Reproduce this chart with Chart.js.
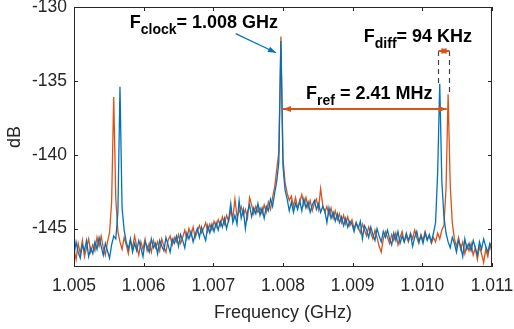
<!DOCTYPE html>
<html>
<head>
<meta charset="utf-8">
<script src="https://cdn.jsdelivr.net/npm/chart.js@4/dist/chart.umd.min.js"></script>
<style>
  html, body { margin: 0; padding: 0; background: #ffffff; }
  #wrap { width: 514px; height: 329px; }
</style>
</head>
<body>
<div id="wrap"><canvas id="spectrum" width="514" height="329"></canvas></div>
<script>
// Sweep grid (GHz): first point and spacing between points
const freqStart = 1.005;
const freqStep = 0.00003;

// Axis ticks
const xTicks = [1.005, 1.006, 1.007, 1.008, 1.009, 1.010, 1.011];
const yTicks = [-145, -140, -135, -130];

// Measured spectrum, blue trace (dB)
const blueDb = [
  -146.8, -145.9, -146.6, -147.0, -146.1, -146.5, -145.8, -146.9, -146.3, -146.7,
  -145.9, -146.4, -145.6, -146.2, -146.8, -146.0, -146.5, -147.0, -146.1, -145.5,
  -145.7, -143.9, -135.4, -143.6, -145.1, -145.9, -146.4, -145.7, -146.6, -146.0,
  -146.5, -145.8, -146.3, -146.9, -145.9, -146.2, -146.6, -145.7, -146.3, -146.0,
  -146.7, -145.8, -146.2, -146.5, -145.6, -146.1, -146.6, -145.7, -146.0, -145.5,
  -146.2, -145.4, -145.8, -146.3, -145.3, -145.7, -145.2, -145.9, -145.4, -145.0,
  -145.6, -144.9, -145.4, -145.8, -144.8, -145.3, -144.7, -145.2, -144.6, -145.1,
  -144.5, -144.9, -144.3, -145.0, -144.4, -143.3, -144.6, -144.1, -144.7, -143.1,
  -144.3, -143.7, -145.0, -143.9, -143.4, -144.2, -143.6, -144.0, -143.3, -144.1,
  -143.6, -144.3, -143.5, -143.8, -143.0, -143.5, -142.6, -141.8, -140.5, -132.3,
  -140.8, -142.4, -143.0, -143.8, -143.2, -143.9, -143.3, -143.7, -143.1, -143.8,
  -143.0, -143.6, -143.2, -143.9, -143.4, -143.1, -143.7, -143.3, -143.9, -143.5,
  -143.8, -144.6, -143.6, -144.3, -143.9, -144.5, -144.0, -144.6, -144.2, -144.8,
  -144.3, -144.9, -144.5, -144.7, -145.2, -144.6, -145.0, -144.5, -145.7, -144.8,
  -145.1, -145.6, -144.9, -145.4, -145.8, -145.0, -145.5, -145.9, -145.2, -145.6,
  -145.1, -145.7, -146.1, -145.3, -145.8, -145.2, -146.0, -145.5, -145.9, -145.3,
  -145.8, -145.4, -146.2, -145.6, -145.2, -145.9, -145.5, -146.0, -145.3, -145.8,
  -145.4, -145.9, -145.3, -144.6, -141.2, -135.2, -141.8, -144.2, -145.3, -145.9,
  -146.3, -145.6, -146.0, -146.6, -145.8, -146.2, -146.9, -145.7, -146.4, -146.0,
  -146.5, -145.8, -146.3, -146.8, -145.9, -146.4, -145.7, -146.2, -146.6, -146.0,
  -146.3
];

// Measured spectrum, orange trace (dB)
const orangeDb = [
  -146.4, -147.1, -146.0, -146.7, -145.8, -146.9, -146.3, -145.7, -146.6, -146.1,
  -146.5, -145.6, -146.2, -145.5, -146.3, -146.8, -145.9, -145.3, -143.2, -136.1,
  -143.0, -145.2, -145.9, -146.4, -145.6, -146.1, -146.7, -145.8, -146.3, -145.5,
  -146.2, -146.8, -145.9, -146.4, -145.7, -146.5, -146.0, -146.6, -145.8, -146.3,
  -145.9, -146.5, -145.7, -146.2, -146.6, -145.8, -145.5, -146.1, -145.6, -145.9,
  -145.4, -146.0, -145.6, -145.1, -145.7, -145.0, -145.5, -144.9, -145.6, -145.2,
  -144.8, -145.3, -145.0, -144.6, -145.2, -144.7, -145.1, -144.5, -144.9, -144.4,
  -144.8, -144.2, -144.7, -144.1, -144.5, -143.8, -144.3, -143.0, -144.2, -143.9,
  -143.5, -144.1, -143.7, -144.3, -142.9, -143.4, -144.0, -143.5, -143.9, -143.6,
  -144.0, -143.4, -143.9, -143.2, -143.7, -142.9, -142.2, -141.0, -139.8, -132.0,
  -140.3, -141.9, -142.6, -143.1, -142.8, -143.5, -142.9, -143.6, -143.2, -142.7,
  -143.4, -142.9, -143.6, -143.1, -143.8, -143.3, -143.0, -143.7, -142.3, -143.4,
  -143.9, -143.5, -144.1, -143.6, -144.3, -143.8, -144.4, -144.0, -144.6, -144.1,
  -144.7, -144.2, -144.8, -144.4, -145.0, -144.6, -144.9, -145.3, -144.7, -145.1,
  -145.5, -144.9, -145.3, -145.7, -145.1, -145.6, -146.2, -146.6, -145.7, -145.2,
  -145.6, -146.0, -145.4, -145.8, -145.3, -146.1, -145.6, -145.2, -145.9, -145.5,
  -145.9, -145.3, -145.7, -145.1, -145.6, -146.0, -145.4, -145.8, -145.2, -145.7,
  -145.5, -146.0, -145.6, -145.9, -145.3, -145.7, -145.1, -144.8, -142.3, -135.9,
  -142.0, -144.6, -145.7, -146.2, -145.6, -146.4, -145.9, -146.7, -146.1, -146.5,
  -146.0, -146.8, -146.3, -147.1, -146.2, -146.7, -147.3, -146.4, -146.9, -146.1,
  -146.6
];

// Annotation anchors (GHz, dB)
const clockText = [1.0058, -131.45];
const clockArrow = [1.00732, -131.8, 1.0079, -133.1];
const refText = [1.00833, -136.25];
const refArrow = [1.008, 1.01035, -136.9];
const diffText = [1.00916, -132.4];
const diffArrow = [1.01022, 1.01038, -132.95];
const diffBlueTop = -135.2;
const diffOrangeTop = -135.8;

const BLUE = '#0072BD';
const ORANGE = '#D95319';
const AXIS = '#262626';
const FONT = "'Liberation Sans', Arial, Helvetica, sans-serif";

function toPoints(values) {
  return values.map((v, i) => ({ x: freqStart + i * freqStep, y: v }));
}

function arrowHead(ctx, x0, y0, x1, y1, color) {
  const ang = Math.atan2(y1 - y0, x1 - x0);
  const len = 8, half = 3;
  ctx.fillStyle = color;
  ctx.beginPath();
  ctx.moveTo(x1, y1);
  ctx.lineTo(x1 - len * Math.cos(ang) + half * Math.sin(ang), y1 - len * Math.sin(ang) - half * Math.cos(ang));
  ctx.lineTo(x1 - len * Math.cos(ang) - half * Math.sin(ang), y1 - len * Math.sin(ang) + half * Math.cos(ang));
  ctx.closePath();
  ctx.fill();
}

function line(ctx, x0, y0, x1, y1, color) {
  ctx.strokeStyle = color;
  ctx.beginPath();
  ctx.moveTo(x0, y0);
  ctx.lineTo(x1, y1);
  ctx.stroke();
}

// "F" with a subscript then the rest of the label
function subLabel(ctx, x, y, sub, rest) {
  ctx.fillStyle = '#000';
  ctx.textBaseline = 'alphabetic';
  ctx.textAlign = 'left';
  ctx.font = 'bold 18px ' + FONT;
  ctx.fillText('F', x, y);
  x += ctx.measureText('F').width;
  ctx.font = 'bold 14px ' + FONT;
  ctx.fillText(sub, x, y + 6);
  x += ctx.measureText(sub).width;
  ctx.font = 'bold 18px ' + FONT;
  ctx.fillText(rest, x, y);
}

const axesBox = {
  id: 'axesBox',
  afterDatasetsDraw(chart) {
    const { ctx, chartArea: a, scales: { x, y } } = chart;
    ctx.save();
    ctx.lineWidth = 1;
    ctx.strokeStyle = AXIS;
    ctx.strokeRect(a.left + 0.5, a.top + 0.5, a.right - a.left - 1, a.bottom - a.top - 1);
    // inward ticks on all four sides
    ctx.beginPath();
    xTicks.forEach(t => {
      const px = Math.round(x.getPixelForValue(t)) + 0.5;
      ctx.moveTo(px, a.bottom); ctx.lineTo(px, a.bottom - 4);
      ctx.moveTo(px, a.top); ctx.lineTo(px, a.top + 4);
    });
    yTicks.forEach(t => {
      const py = Math.round(y.getPixelForValue(t)) + 0.5;
      ctx.moveTo(a.left, py); ctx.lineTo(a.left + 4, py);
      ctx.moveTo(a.right, py); ctx.lineTo(a.right - 4, py);
    });
    ctx.stroke();

    ctx.lineWidth = 1.6;

    // F_clock label with blue arrow
    subLabel(ctx, x.getPixelForValue(clockText[0]), y.getPixelForValue(clockText[1]), 'clock', '= 1.008 GHz');
    const cx0 = x.getPixelForValue(clockArrow[0]), cy0 = y.getPixelForValue(clockArrow[1]);
    const cx1 = x.getPixelForValue(clockArrow[2]), cy1 = y.getPixelForValue(clockArrow[3]);
    ctx.lineWidth = 1.2;
    line(ctx, cx0, cy0, cx1, cy1, BLUE);
    arrowHead(ctx, cx0, cy0, cx1, cy1, BLUE);

    // F_ref label with double arrow between the peaks
    subLabel(ctx, x.getPixelForValue(refText[0]), y.getPixelForValue(refText[1]), 'ref', ' = 2.41 MHz');
    const rx0 = x.getPixelForValue(refArrow[0]), rx1 = x.getPixelForValue(refArrow[1]);
    const ry = Math.round(y.getPixelForValue(refArrow[2]));
    ctx.lineWidth = 1.8;
    line(ctx, rx0, ry, rx1, ry, ORANGE);
    arrowHead(ctx, rx1, ry, rx0, ry, ORANGE);
    arrowHead(ctx, rx0, ry, rx1, ry, ORANGE);

    // F_diff label, dashed guides and small double arrow
    subLabel(ctx, x.getPixelForValue(diffText[0]), y.getPixelForValue(diffText[1]), 'diff', '= 94 KHz');
    const dx0 = Math.round(x.getPixelForValue(diffArrow[0])) + 0.5;
    const dx1 = Math.round(x.getPixelForValue(diffArrow[1])) + 0.5;
    const dy = Math.round(y.getPixelForValue(diffArrow[2]));
    ctx.lineWidth = 1.2;
    ctx.setLineDash([5, 4]);
    line(ctx, dx0, dy, dx0, y.getPixelForValue(diffBlueTop), '#444');
    line(ctx, dx1, dy, dx1, y.getPixelForValue(diffOrangeTop), '#444');
    ctx.setLineDash([]);
    ctx.lineWidth = 1.8;
    line(ctx, dx0, dy, dx1, dy, ORANGE);
    arrowHead(ctx, dx1, dy, dx0, dy, ORANGE);
    arrowHead(ctx, dx0, dy, dx1, dy, ORANGE);
    ctx.restore();
  }
};

new Chart(document.getElementById('spectrum'), {
  type: 'line',
  data: {
    datasets: [
      { data: toPoints(blueDb), borderColor: BLUE, borderWidth: 1.3, pointRadius: 0, tension: 0 },
      { data: toPoints(orangeDb), borderColor: ORANGE, borderWidth: 1.3, pointRadius: 0, tension: 0 }
    ]
  },
  options: {
    responsive: false,
    animation: false,
    layout: { padding: { top: 7, right: 22, left: 0, bottom: 0 } },
    plugins: { legend: { display: false }, tooltip: { enabled: false } },
    scales: {
      x: {
        type: 'linear',
        min: 1.005,
        max: 1.011,
        afterBuildTicks: s => { s.ticks = xTicks.map(v => ({ value: v })); },
        afterFit: s => { s.height = 62; s.paddingLeft = 0; s.paddingRight = 0; },
        grid: { display: false, drawTicks: false },
        border: { display: false },
        ticks: {
          autoSkip: false, maxRotation: 0, padding: 9,
          color: AXIS, font: { family: FONT, size: 17.5 },
          callback: v => v.toFixed(3)
        },
        title: {
          display: true, text: 'Frequency (GHz)', color: AXIS,
          font: { family: FONT, size: 18 }, padding: { top: 0, bottom: 5 }
        }
      },
      y: {
        min: -147.6,
        max: -130,
        afterBuildTicks: s => { s.ticks = yTicks.map(v => ({ value: v })); },
        afterFit: s => { s.width = 74; s.paddingTop = 0; s.paddingBottom = 0; },
        grid: { display: false, drawTicks: false },
        border: { display: false },
        ticks: { padding: 7, color: AXIS, font: { family: FONT, size: 17.5 } },
        title: {
          display: true, text: 'dB', color: AXIS,
          font: { family: FONT, size: 18 }, padding: { top: 4, bottom: 0 }
        }
      }
    }
  },
  plugins: [axesBox]
});
</script>
</body>
</html>
